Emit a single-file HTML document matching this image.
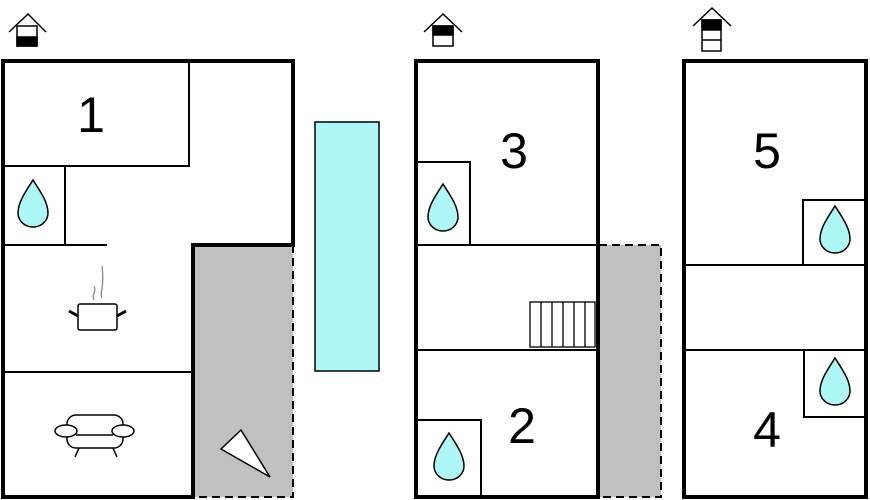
<!DOCTYPE html>
<html><head><style>body{margin:0;background:#fff}svg{display:block}</style></head><body>
<svg width="870" height="500" viewBox="0 0 870 500" xmlns="http://www.w3.org/2000/svg" font-family="Liberation Sans, sans-serif">
<defs>
<g id="drop"><path d="M0,-26 C-7,-15 -15,-4 -15,7 A15,14 0 0 0 15,7 C15,-4 7,-15 0,-26Z" fill="#aef7f7" stroke="#000" stroke-width="1.5"/></g>
</defs>
<g stroke="#000" stroke-width="1.5" fill="none">
<path d="M9,32 L28,14 L46,32"/><rect x="17" y="26" width="20" height="20" fill="#fff"/><rect x="17" y="37" width="20" height="9" fill="#000"/>
<path d="M424,32 L443,14 L462,32"/><rect x="433" y="26" width="20" height="20" fill="#fff"/><rect x="433" y="26" width="20" height="9" fill="#000"/>
<path d="M693,26 L712,8 L731,26"/><rect x="702" y="20" width="19" height="31" fill="#fff"/><rect x="702" y="20" width="19" height="10" fill="#000"/><line x1="702" y1="40" x2="721" y2="40"/>
</g>
<rect x="193" y="245" width="100" height="252" fill="#c0c0c0"/>
<path d="M293,245 V497 H193" fill="none" stroke="#000" stroke-width="2" stroke-dasharray="8,5"/>
<rect x="599" y="245" width="62" height="252" fill="#c0c0c0"/>
<path d="M599,245 H661 V497 H599" fill="none" stroke="#000" stroke-width="2" stroke-dasharray="8,5"/>
<rect x="315" y="122" width="64" height="249" fill="#aef7f7" stroke="#000" stroke-width="1.5"/>
<path d="M3,61 H293 V245 H193 V497 H3 Z" fill="none" stroke="#000" stroke-width="4"/>
<g stroke="#000" stroke-width="2" fill="none">
<path d="M3,166 H189 V61"/><path d="M65,166 V245"/><path d="M3,245 H107"/><path d="M3,372 H192"/>
</g>
<text x="91" y="132" font-size="50" text-anchor="middle">1</text>
<use href="#drop" x="33" y="206"/>
<g stroke="#000" stroke-width="1.5" fill="none">
<rect x="78" y="304" width="39" height="26" rx="2" fill="#fff"/>
<path d="M78,316 L69,311 M117,316 L126,311" stroke-width="3"/>
<path d="M94,300 c-3,-6 3,-8 0,-14 M102,298 c-3,-6 3,-8 0,-32" stroke="#888" stroke-width="1.3"/>
</g>
<g stroke="#000" stroke-width="1.5" fill="#fff">
<rect x="67" y="415" width="56" height="33" rx="9"/>
<ellipse cx="66" cy="431" rx="11" ry="6"/><ellipse cx="123" cy="431" rx="11" ry="6"/>
<path d="M76,435 H113 M79,448 L75,457 M113,448 L117,457" fill="none"/>
</g>
<path d="M221,449 L241,430 L270,477 Z" fill="#fff" stroke="#000" stroke-width="1.5"/>
<rect x="416" y="61" width="182" height="436" fill="none" stroke="#000" stroke-width="4"/>
<g stroke="#000" stroke-width="2" fill="none">
<path d="M416,245 H598 M416,350 H598"/><path d="M416,162 H470 V245"/><path d="M416,420 H481 V497"/>
</g>
<g stroke="#000" stroke-width="1.3" fill="none">
<rect x="530" y="302" width="65" height="45"/>
<path d="M541,302 V347 M552,302 V347 M563,302 V347 M574,302 V347 M585,302 V347"/>
</g>
<text x="514" y="168" font-size="50" text-anchor="middle">3</text>
<text x="522" y="443" font-size="50" text-anchor="middle">2</text>
<use href="#drop" x="443" y="210"/>
<use href="#drop" x="449" y="459"/>
<rect x="684" y="61" width="182" height="436" fill="none" stroke="#000" stroke-width="4"/>
<g stroke="#000" stroke-width="2" fill="none">
<path d="M684,265 H866 M684,350 H866"/><path d="M866,200 H803 V265"/><path d="M804,350 V417 H866"/>
</g>
<text x="767" y="168" font-size="50" text-anchor="middle">5</text>
<text x="767" y="447" font-size="50" text-anchor="middle">4</text>
<use href="#drop" x="835" y="232"/>
<use href="#drop" x="835" y="384"/>
</svg>
</body></html>
